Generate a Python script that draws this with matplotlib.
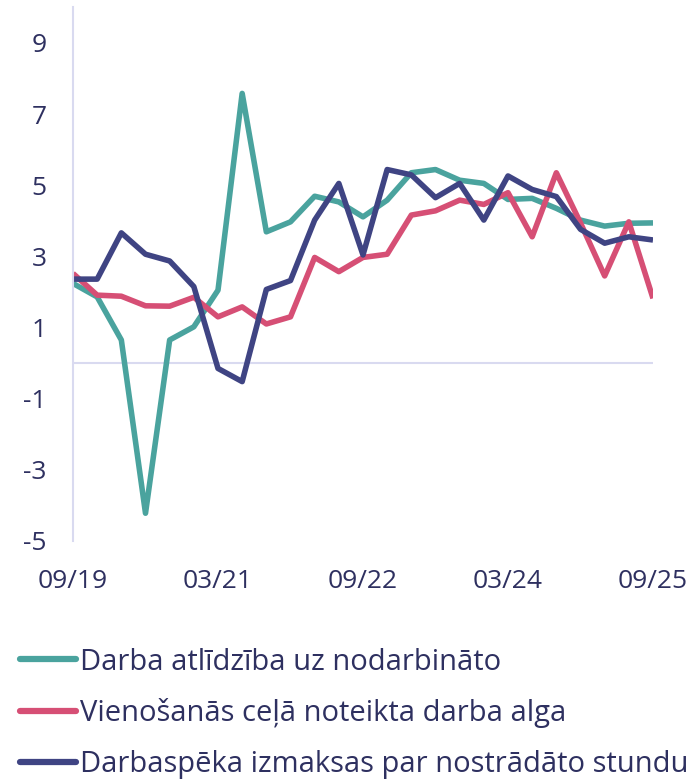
import matplotlib
matplotlib.use("Agg")
import matplotlib.pyplot as plt

# ---------- DATA ----------
quarters = list(range(25))  # 09/19 .. 09/25, quarterly
tick_pos = [0, 6, 12, 18, 24]
tick_labels = ["09/19", "03/21", "09/22", "03/24", "09/25"]

darba_atlidziba = [2.24, 1.86, 0.65, -4.22, 0.65, 1.02, 2.05, 7.58, 3.69, 3.97,
                   4.69, 4.53, 4.11, 4.58, 5.35, 5.44, 5.14, 5.05, 4.60, 4.63,
                   4.35, 4.02, 3.85, 3.93, 3.94]
vienosanas_alga = [2.52, 1.91, 1.88, 1.61, 1.60, 1.85, 1.30, 1.58, 1.10, 1.30,
                   2.97, 2.57, 2.97, 3.06, 4.16, 4.28, 4.58, 4.46, 4.79, 3.55,
                   5.35, 3.94, 2.45, 3.97, 1.82]
darbaspeka_izmaksas = [2.36, 2.36, 3.66, 3.06, 2.87, 2.15, -0.15, -0.52, 2.07, 2.32,
                       4.02, 5.05, 3.04, 5.44, 5.29, 4.65, 5.05, 4.02, 5.26, 4.88,
                       4.68, 3.76, 3.37, 3.55, 3.46]

labels = ["Darba atlīdzība uz nodarbināto",
          "Vienošanās ceļā noteikta darba alga",
          "Darbaspēka izmaksas par nostrādāto stundu"]
colors = ["#4aa39e", "#d64f75", "#3f4483"]

TEXT = "#2e3060"
GRID = "#d9daf0"

plt.rcParams["font.family"] = ["Open Sans", "DejaVu Sans"]
plt.rcParams["axes.unicode_minus"] = False

fig = plt.figure(figsize=(6.97, 7.84), dpi=100)
ax = fig.add_axes([73 / 697, 1 - 541 / 784, 580 / 697, 533.7 / 784])

for series, lab, col in zip([darba_atlidziba, vienosanas_alga, darbaspeka_izmaksas], labels, colors):
    ax.plot(quarters, series, color=col, lw=4, label=lab, solid_joinstyle="round", solid_capstyle="butt")

ax.axhline(0, color=GRID, lw=1.5, zorder=0)
ax.set_xlim(0, 24)
ax.set_ylim(-5, 10)
ax.set_yticks([-5, -3, -1, 1, 3, 5, 7, 9])
ax.set_xticks(tick_pos)
ax.set_xticklabels(tick_labels)

for s in ["top", "right", "bottom"]:
    ax.spines[s].set_visible(False)
ax.spines["left"].set_color(GRID)
ax.spines["left"].set_linewidth(1.5)
ax.tick_params(axis="both", length=0, labelsize=19, colors=TEXT)
ax.tick_params(axis="y", pad=19)
ax.tick_params(axis="x", pad=20)

leg = fig.legend(loc="upper left", bbox_to_anchor=(0.029, 0.174), frameon=False,
                 fontsize=21, labelcolor=TEXT, handlelength=1.9, handletextpad=0.15,
                 labelspacing=0.74, borderaxespad=0.0, borderpad=0.0)
for h in leg.get_lines():
    h.set_linewidth(4.5)
    h.set_solid_capstyle("round")

fig.savefig("out.png", dpi=100)
